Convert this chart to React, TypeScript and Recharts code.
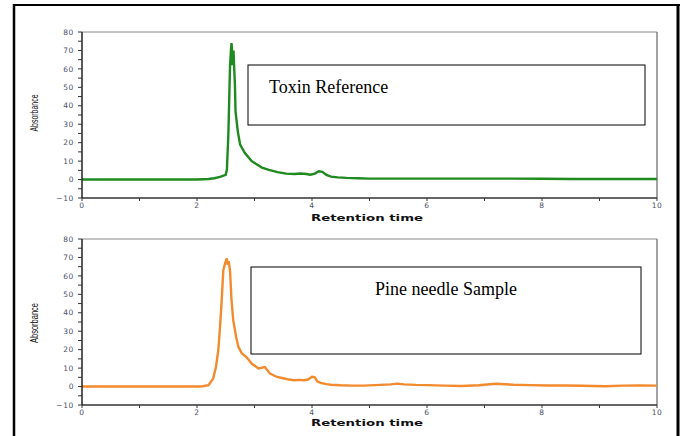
import React from 'react';
import { LineChart, Line, XAxis, YAxis, ReferenceLine } from 'recharts';

// Toxin reference chromatogram (retention time, absorbance)
const toxinTimes = [0, 0.5, 1, 1.5, 2.0, 2.2, 2.3, 2.4, 2.45, 2.5, 2.52, 2.545, 2.574, 2.59, 2.6, 2.61, 2.617, 2.625, 2.635, 2.645, 2.66, 2.67, 2.71, 2.75, 2.83, 2.95, 3.05, 3.13, 3.25, 3.4, 3.55, 3.7, 3.8, 3.9, 3.97, 4.05, 4.12, 4.18, 4.25, 4.33, 4.45, 4.6, 4.8, 5.0, 5.5, 6, 6.5, 7, 7.5, 8, 8.5, 9, 9.5, 10];
const toxinValues = [0, 0, 0, 0, 0, 0.3, 0.7, 1.5, 2, 2.5, 5.4, 24, 61, 70, 74, 70, 62, 67, 70, 62, 51, 37, 26, 19, 14.5, 10, 8, 6.5, 5.2, 4, 3.2, 3, 3.3, 3, 2.6, 3.2, 4.5, 4.2, 2.5, 1.6, 1.2, 0.9, 0.7, 0.5, 0.5, 0.5, 0.5, 0.5, 0.5, 0.4, 0.3, 0.3, 0.3, 0.3];

// Pine needle sample chromatogram
const pineTimes = [0, 1, 2, 2.1, 2.2, 2.28, 2.33, 2.37, 2.4, 2.43, 2.457, 2.49, 2.517, 2.535, 2.55, 2.574, 2.6, 2.63, 2.68, 2.72, 2.78, 2.86, 2.95, 3.07, 3.18, 3.27, 3.39, 3.5, 3.6, 3.69, 3.78, 3.86, 3.93, 4.0, 4.05, 4.09, 4.15, 4.25, 4.33, 4.5, 4.7, 4.9, 5.1, 5.37, 5.48, 5.6, 5.8, 6.0, 6.3, 6.6, 6.9, 7.2, 7.5, 7.8, 8.1, 8.4, 8.7, 9.1, 9.4, 9.7, 10];
const pineValues = [0, 0, 0, 0.2, 0.7, 4.3, 10.6, 19.7, 32, 47, 63, 67, 69.5, 66, 68, 63, 47, 36, 27, 21.5, 18, 16, 12.5, 9.8, 10.6, 7, 5.2, 4.5, 3.8, 3.4, 3.6, 3.4, 3.8, 5.3, 5, 2.8, 2, 1.3, 1, 0.7, 0.5, 0.5, 0.8, 1.2, 1.6, 1.2, 0.9, 0.8, 0.5, 0.3, 0.7, 1.5, 1, 0.8, 0.6, 0.6, 0.4, 0.2, 0.5, 0.6, 0.5];

const xTicks = [0, 1, 2, 3, 4, 5, 6, 7, 8, 9, 10];
const yTicks = [-10, -5, 0, 5, 10, 15, 20, 25, 30, 35, 40, 45, 50, 55, 60, 65, 70, 75, 80];

const toxinData = toxinTimes.map((t, i) => ({ t, v: toxinValues[i] }));
const pineData = pineTimes.map((t, i) => ({ t, v: pineValues[i] }));

const tickStyle = { fontSize: 7.5, fill: '#4a5068', fontFamily: 'DejaVu Sans', letterSpacing: 0.6 };

function Chromatogram({ data, color, width, height, margin }: any) {
  return (
    <LineChart width={width} height={height} data={data} margin={margin}>
      <XAxis
        dataKey="t"
        type="number"
        domain={[0, 10]}
        ticks={xTicks}
        interval={0}
        height={20}
        tickSize={3}
        tickMargin={2}
        tick={tickStyle}
        tickFormatter={(v: number) => (v % 2 === 0 ? String(v) : '')}
        axisLine={{ stroke: '#333', strokeWidth: 1.5 }}
        tickLine={{ stroke: '#333' }}
      />
      <YAxis
        type="number"
        domain={[-10, 80]}
        ticks={yTicks}
        interval={0}
        width={40}
        tickSize={4}
        tickMargin={4}
        tick={tickStyle}
        tickFormatter={(v: number) => (v % 10 === 0 ? (v < 0 ? '\u2212' + Math.abs(v) : String(v)) : '')}
        axisLine={{ stroke: '#222', strokeWidth: 1.5 }}
        tickLine={{ stroke: '#333' }}
      />
      <ReferenceLine y={80} stroke="#888" strokeWidth={1} />
      <ReferenceLine x={10} stroke="#666" strokeWidth={1.2} />
      <Line
        type="linear"
        dataKey="v"
        stroke={color}
        strokeWidth={2.4}
        dot={false}
        isAnimationActive={false}
      />
    </LineChart>
  );
}

export default function App() {
  return (
    <div style={{ position: 'absolute', left: 0, top: 0, width: 681, height: 436, background: '#fff', overflow: 'hidden' }}>
      <div style={{ position: 'absolute', left: 0, top: 0 }}>
        <Chromatogram data={toxinData} color="#1f8a1f" width={681} height={220} margin={{ top: 32, right: 24, bottom: 2, left: 42 }} />
      </div>
      <div style={{ position: 'absolute', left: 0, top: 220 }}>
        <Chromatogram data={pineData} color="#f28a2e" width={681} height={216} margin={{ top: 19, right: 24, bottom: 11, left: 42 }} />
      </div>
      <svg width={681} height={436} style={{ position: 'absolute', left: 0, top: 0, pointerEvents: 'none' }}>
        {/* outer frame */}
        <line x1={13} y1={5} x2={680} y2={5} stroke="#000" strokeWidth={2} />
        <line x1={14} y1={4} x2={14} y2={436} stroke="#000" strokeWidth={2.5} />
        <line x1={678} y1={4} x2={678} y2={436} stroke="#000" strokeWidth={3} />
        {/* axis titles */}
        <text x={35} y={113} transform="rotate(-90 35 113)" textAnchor="middle" dominantBaseline="middle"
          fontFamily="'Liberation Sans Narrow', 'Liberation Sans', Arial" fontSize={11} fill="#111"
          textLength={37} lengthAdjust="spacingAndGlyphs">Absorbance</text>
        <text x={35} y={323} transform="rotate(-90 35 323)" textAnchor="middle" dominantBaseline="middle"
          fontFamily="'Liberation Sans Narrow', 'Liberation Sans', Arial" fontSize={11} fill="#111"
          textLength={40} lengthAdjust="spacingAndGlyphs">Absorbance</text>
        <text x={367} y={221} textAnchor="middle" fontFamily="'DejaVu Sans', Arial" fontWeight="bold" fontSize={9} fill="#111"
          textLength={112} lengthAdjust="spacingAndGlyphs">Retention time</text>
        <text x={367} y={426} textAnchor="middle" fontFamily="'DejaVu Sans', Arial" fontWeight="bold" fontSize={9} fill="#111"
          textLength={112} lengthAdjust="spacingAndGlyphs">Retention time</text>
        {/* annotation boxes */}
        <rect x={248} y={65} width={397} height={60} fill="#fff" stroke="#000" strokeWidth={1} />
        <text x={269} y={93} fontFamily="'Liberation Serif', 'Times New Roman', serif" fontSize={18} fill="#000">Toxin Reference</text>
        <rect x={251} y={267} width={390} height={87} fill="#fff" stroke="#000" strokeWidth={1} />
        <text x={446} y={295} textAnchor="middle" fontFamily="'Liberation Serif', 'Times New Roman', serif" fontSize={18} fill="#000">Pine needle Sample</text>
      </svg>
    </div>
  );
}
